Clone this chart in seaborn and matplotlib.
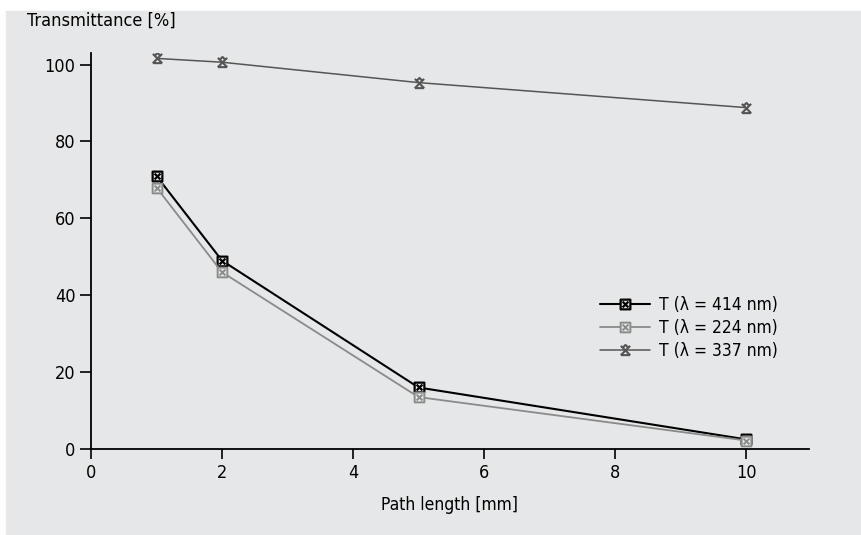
import numpy as np
import pandas as pd
import seaborn as sns
import matplotlib
matplotlib.use('Agg')
import matplotlib.pyplot as plt
from matplotlib.path import Path
from matplotlib.patches import Rectangle

# data
path_mm = [1, 2, 5, 10]
t_414 = [71, 49, 16, 2.5]
t_224 = [68, 46, 13.5, 2.2]
t_337 = [101.6, 100.6, 95.3, 88.8]
x_ticks = [0, 2, 4, 6, 8, 10]
y_ticks = [0, 20, 40, 60, 80, 100]

sns.set_style('ticks')
plt.rcParams['font.family'] = ['Liberation Sans Narrow', 'DejaVu Sans']
plt.rcParams['font.stretch'] = 'condensed'
plt.rcParams['font.size'] = 13
plt.rcParams['text.color'] = 'black'
plt.rcParams['xtick.color'] = 'black'
plt.rcParams['ytick.color'] = 'black'
plt.rcParams['axes.labelcolor'] = 'black'

bg = '#e6e7e8'

# square with a cross inside
M, L, C = Path.MOVETO, Path.LINETO, Path.CLOSEPOLY
box_x = Path([(-1, -1), (1, -1), (1, 1), (-1, 1), (-1, -1),
              (-0.6, -0.6), (0.6, 0.6), (-0.6, 0.6), (0.6, -0.6)],
             [M, L, L, L, C, M, L, M, L])
# cross with a cap on top and a bar at the bottom
star_x = Path([(-1, -1), (1, 1), (-1, 1), (1, -1), (-1, -1), (1, -1),
               (-0.6, 0.6), (0, 1.2), (0.6, 0.6)],
              [M, L, M, L, M, L, M, L, L])

fig = plt.figure(figsize=(8.62, 5.35), dpi=100)
fig.patches.append(Rectangle((6 / 862, 0), 1, (535 - 11) / 535,
                             transform=fig.transFigure, color=bg, zorder=-10))
ax = fig.add_axes([91 / 862, (535 - 449) / 535, (809 - 91) / 862, (449 - 53) / 535])
ax.set_zorder(5)
ax.patch.set_alpha(0)

sns.lineplot(x=path_mm, y=t_414, ax=ax, color='black', lw=1.5, marker=box_x,
             markersize=7, mec='black', mfc=bg, mew=1.6, label='T (λ = 414 nm)')
sns.lineplot(x=path_mm, y=t_224, ax=ax, color='#8a8a8a', lw=1.3, marker=box_x,
             markersize=7, mec='#8a8a8a', mfc=bg, mew=1.4, label='T (λ = 224 nm)')
sns.lineplot(x=path_mm, y=t_337, ax=ax, color='#555555', lw=1.1, marker=star_x,
             markersize=8, mec='#555555', mfc='none', mew=1.5, label='T (λ = 337 nm)')

ax.set_xlim(0, 10.96)
ax.set_ylim(0, 103)
ax.set_xticks(x_ticks)
ax.set_yticks(y_ticks)
sns.despine(ax=ax)
for s in ['left', 'bottom']:
    ax.spines[s].set_linewidth(1.3)
    ax.spines[s].set_color('black')
ax.tick_params(axis='y', length=8, width=1.2, pad=3, labelsize=13)
ax.tick_params(axis='x', length=7, width=1.2, pad=4, labelsize=13)

ax.set_xlabel('Path length [mm]', fontsize=12.5, labelpad=10)
ax.set_ylabel('')
fig.text(27 / 862, 1 - 21 / 535, 'Transmittance [%]', fontsize=13, va='center', ha='left')

leg = ax.legend(loc='upper left', bbox_to_anchor=((600 - 91) / 718, (449 - 296) / 396),
                frameon=False, fontsize=12.5, handlelength=2.9, handletextpad=0.5,
                labelspacing=0.28, borderpad=0, borderaxespad=0)

fig.savefig('out.png', dpi=100)
